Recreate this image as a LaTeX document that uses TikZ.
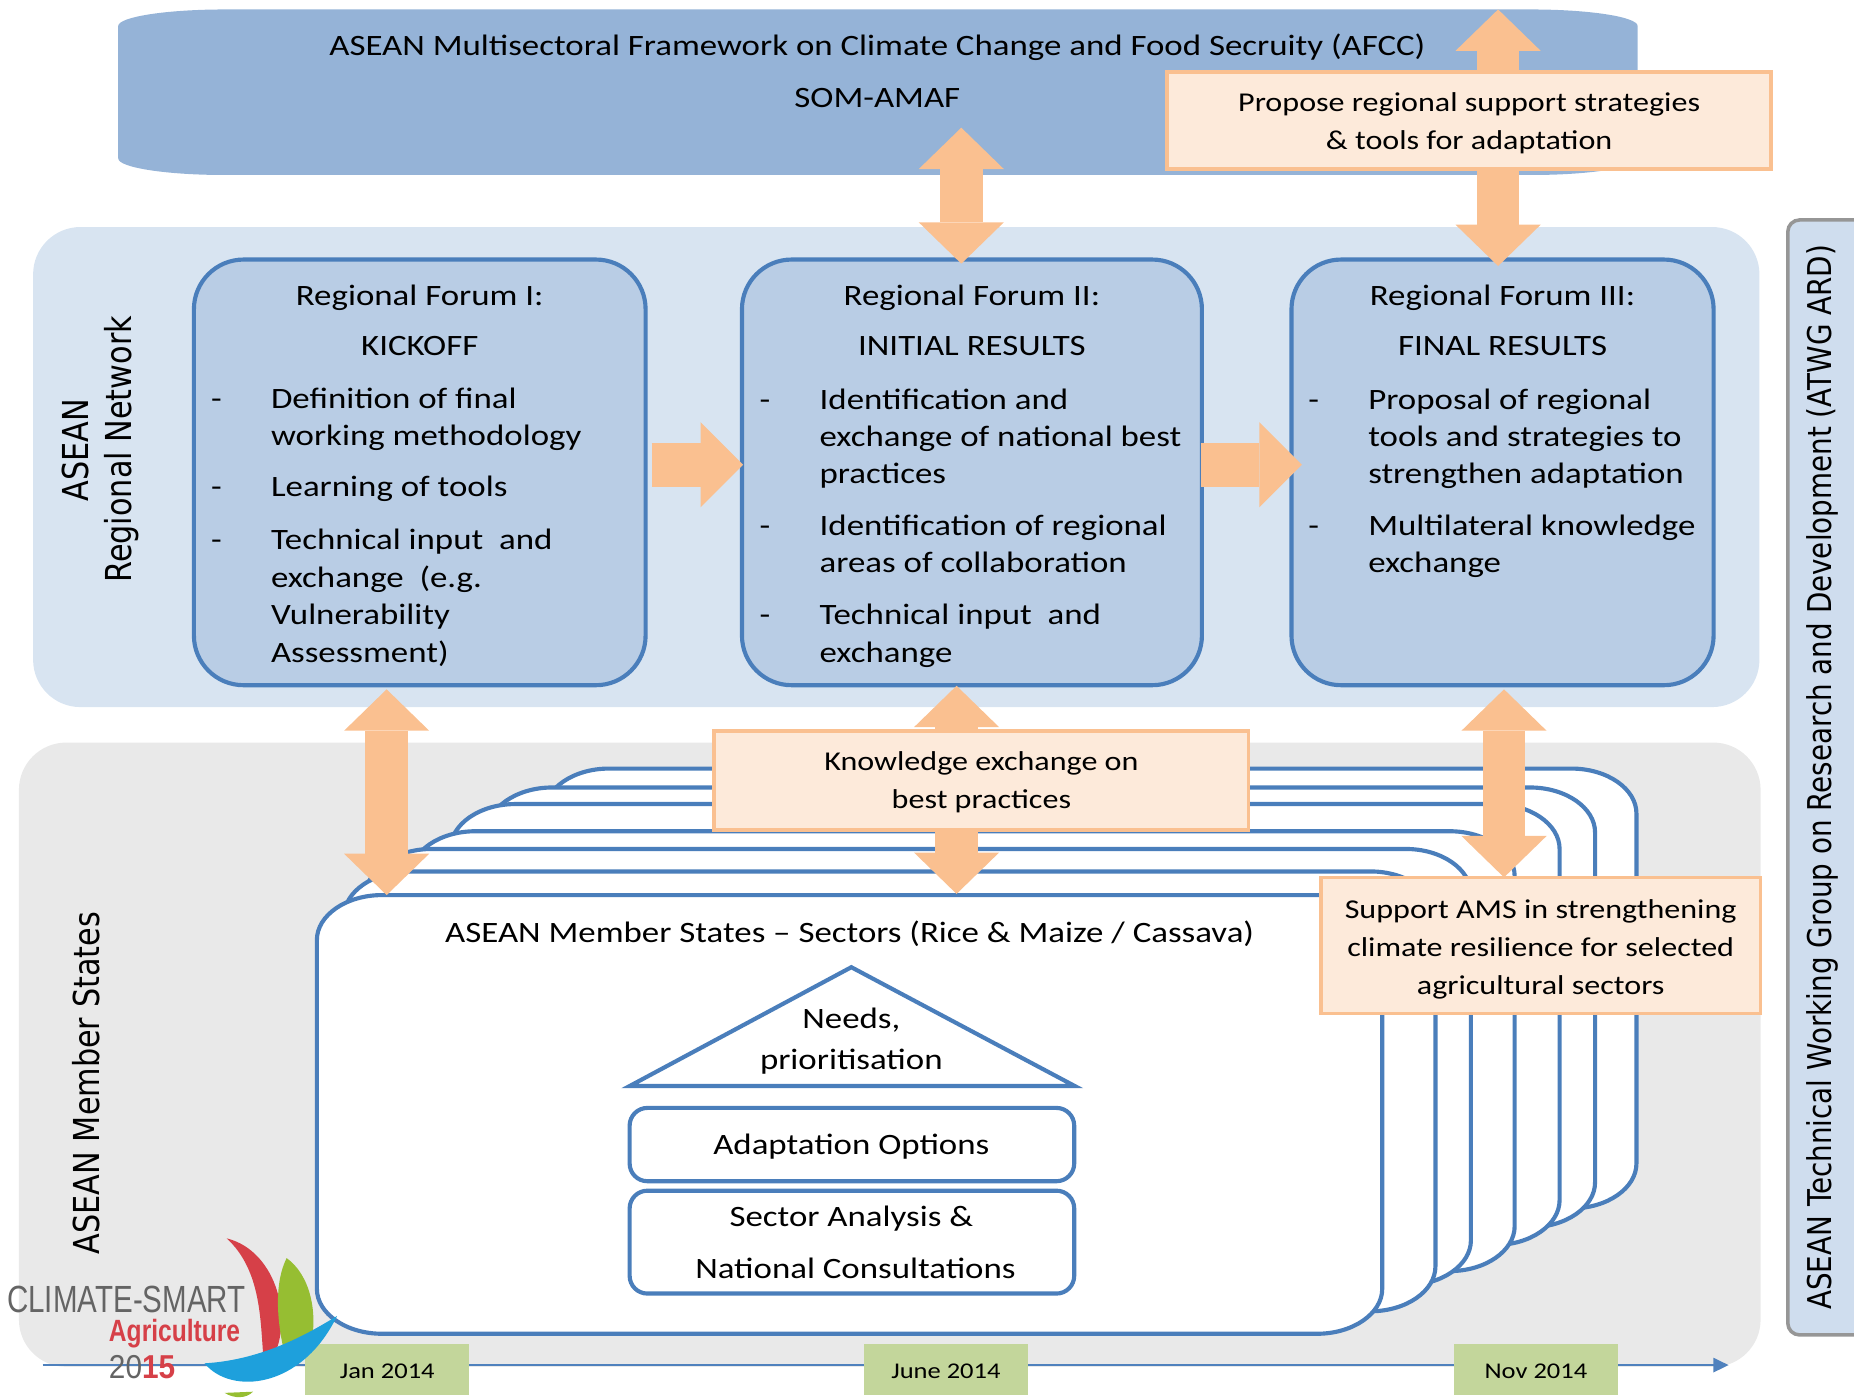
\documentclass[tikz,border=0pt]{standalone}
\usepackage{fontspec}
\setmainfont{Carlito}[FakeStretch=1.18]
\newfontfamily\dvfont{DejaVu Sans}
\newfontfamily\lsfont{Liberation Sans}
\usetikzlibrary{arrows.meta}
\definecolor{bannerblue}{RGB}{149,179,215}
\definecolor{forumfill}{RGB}{185,205,229}
\definecolor{bordblue}{RGB}{74,126,187}
\definecolor{regbg}{RGB}{216,228,241}
\definecolor{membg}{RGB}{233,233,233}
\definecolor{atwgfill}{RGB}{207,221,238}
\definecolor{atwgborder}{RGB}{150,150,150}
\definecolor{arrorange}{RGB}{250,192,144}
\definecolor{peach}{RGB}{253,234,218}
\definecolor{dategreen}{RGB}{195,214,155}
\definecolor{lineblue}{RGB}{79,129,189}
\definecolor{logored}{RGB}{214,64,72}
\definecolor{logogray}{RGB}{100,100,100}
\definecolor{logogreen}{RGB}{150,190,50}
\definecolor{logoblue}{RGB}{30,160,220}
\newcommand\fsbody{\fontsize{25}{31.5}\selectfont}
\newcommand\fsnote{\fontsize{23}{31}\selectfont}
\newcommand\fsdate{\fontsize{19}{23}\selectfont}
\newcommand\fsrot{\dvfont\fontsize{25.6}{30}\selectfont}
\newcommand\fsrotb{\dvfont\fontsize{23.5}{28}\selectfont}
\newcommand\rrpath[6]{(#1,#2+#6) .. controls (#1,#2+0.45*#6) and (#1+0.45*#5,#2) .. (#1+#5,#2) -- (#3-#5,#2) .. controls (#3-0.45*#5,#2) and (#3,#2+0.45*#6) .. (#3,#2+#6) -- (#3,#4-#6) .. controls (#3,#4-0.45*#6) and (#3-0.45*#5,#4) .. (#3-#5,#4) -- (#1+#5,#4) .. controls (#1+0.45*#5,#4) and (#1,#4-0.45*#6) .. (#1,#4-#6) -- cycle}
\begin{document}
\begin{tikzpicture}[x=1pt,y=-1pt,
  bgbox/.style={rounded corners=40pt, inner sep=0pt},
  forumbox/.style={draw=bordblue, line width=3.5pt, fill=forumfill, rounded corners=42pt, inner sep=0pt, minimum height=360pt},
  notebox/.style={draw=arrorange, line width=3pt, fill=peach, inner sep=0pt},
  datebox/.style={fill=dategreen, inner sep=0pt, minimum width=139pt, minimum height=43pt, text height=15pt, text depth=1pt, font=\fsdate},
  innerbox/.style={draw=bordblue, line width=3.5pt, fill=white, rounded corners=15pt, inner sep=0pt, minimum width=376pt},
  txt/.style={inner sep=0pt, font=\fsbody},
  txtl/.style={txt, anchor=base west},
  txtc/.style={txt, anchor=base},
  notetxt/.style={inner sep=0pt, anchor=base, font=\fsnote},
  dblarr/.style={draw=arrorange, line width=36pt, {Triangle[length=35pt,width=72pt,line width=0pt]}-{Triangle[length=35pt,width=72pt,line width=0pt]}},
  sglarr/.style={draw=arrorange, line width=37pt, -{Triangle[length=36pt,width=72pt,line width=0pt]}},
  card/.style={draw=bordblue, line width=3.5pt, fill=white},
  rotlabel/.style={inner sep=0pt, font=\fsrot, rotate=90, yscale=1.18},
]
\useasboundingbox (0,0) rectangle (1568,1183);

% background panels
\node[bgbox, fill=regbg, minimum width=1460pt, minimum height=406pt] (regnet) at (758,395) {};
\node[bgbox, fill=membg, minimum width=1473pt, minimum height=528pt] (membs) at (752.5,892) {};
\node[draw=atwgborder, line width=3pt, fill=atwgfill, rounded corners=10pt, inner sep=0pt, minimum width=90pt, minimum height=943pt] (atwg) at (1557,657.5) {};

% banner
\fill[bannerblue] \rrpath{100}{8}{1385}{148}{90}{14};
\node[txtc] (afcc) at (742,47) {ASEAN Multisectoral Framework on Climate Change and Food Secruity (AFCC)};
\node[txtc] (somamaf) at (742,91) {SOM-AMAF};

% forums
\node[forumbox, minimum width=382pt] (f1) at (355,399.5) {};
\node[forumbox, minimum width=389pt] (f2) at (822,399.5) {};
\node[forumbox, minimum width=357pt] (f3) at (1270.75,399.5) {};

\node[txtc] (f1t) at (355,258) {Regional Forum I:};
\node[txtc] (f1h) at (355,301) {KICKOFF};
\node[txtc] (f1d1) at (183,345.5) {-};
\node[txtl] (f1l1) at (229,345.5) {Definition of final};
\node[txtl] (f1l2) at (229,377) {working methodology};
\node[txtc] (f1d2) at (183,420) {-};
\node[txtl] (f1l3) at (229,420) {Learning of tools};
\node[txtc] (f1d3) at (183,465) {-};
\node[txtl] (f1l4) at (229,465) {Technical input\ \ and};
\node[txtl] (f1l5) at (229,496.5) {exchange\ \ (e.g.};
\node[txtl] (f1l6) at (229,528.5) {Vulnerability};
\node[txtl] (f1l7) at (229,560) {Assessment)};

\node[txtc] (f2t) at (822,258) {Regional Forum II:};
\node[txtc] (f2h) at (822,301) {INITIAL RESULTS};
\node[txtc] (f2d1) at (647,346) {-};
\node[txtl] (f2l1) at (693,346) {Identification and};
\node[txtl] (f2l2) at (693,377.5) {exchange of national best};
\node[txtl] (f2l3) at (693,409) {practices};
\node[txtc] (f2d2) at (647,453) {-};
\node[txtl] (f2l4) at (693,453) {Identification of regional};
\node[txtl] (f2l5) at (693,484.5) {areas of collaboration};
\node[txtc] (f2d3) at (647,528.5) {-};
\node[txtl] (f2l6) at (693,528.5) {Technical input\ \ and};
\node[txtl] (f2l7) at (693,560) {exchange};

\node[txtc] (f3t) at (1270.75,258) {Regional Forum III:};
\node[txtc] (f3h) at (1270.75,301) {FINAL RESULTS};
\node[txtc] (f3d1) at (1111,346) {-};
\node[txtl] (f3l1) at (1157,346) {Proposal of regional};
\node[txtl] (f3l2) at (1157,377.5) {tools and strategies to};
\node[txtl] (f3l3) at (1157,409) {strengthen adaptation};
\node[txtc] (f3d2) at (1111,453) {-};
\node[txtl] (f3l4) at (1157,453) {Multilateral knowledge};
\node[txtl] (f3l5) at (1157,484.5) {exchange};

% top arrows
\coordinate (amidlo) at (813,223);
\coordinate (amidhi) at (813,108);
\coordinate (arightlo) at (1267,225);
\coordinate (arighthi) at (1267,8);
\draw[dblarr] (amidlo) -- (amidhi);
\draw[dblarr] (arightlo) -- (arighthi);

\node[notebox, minimum width=511pt, minimum height=82pt] (propose) at (1242.5,102) {};
\node[notetxt] (prop1) at (1242.5,94.4) {Propose regional support strategies};
\node[notetxt] (prop2) at (1242.5,126.5) {\& tools for adaptation};

% arrows between forums
\coordinate (h1a) at (551,393);
\coordinate (h1b) at (628.5,393);
\coordinate (h2a) at (1016,393);
\coordinate (h2b) at (1101,393);
\draw[sglarr] (h1a) -- (h1b);
\draw[sglarr] (h2a) -- (h2b);

% timeline
\coordinate (tls) at (36,1154.5);
\coordinate (tle) at (1462,1154.5);
\draw[lineblue, line width=2pt, -{Triangle[length=13pt,width=12pt]}] (tls) -- (tle);

% member state cards
\foreach \l/\t/\r/\b in {460/650/1384/1022, 412/666/1349/1038, 381/680/1319/1053, 347/703/1281/1075, 310/718/1244/1087, 291/737/1214/1109, 268/757/1169/1128}{
  \filldraw[card] \rrpath{\l}{\t}{\r}{\b}{55}{38};
}
\node[txtc] (amstitle) at (718.5,797) {ASEAN Member States -- Sectors (Rice \& Maize / Cassava)};
\filldraw[card, line join=miter] (720,818) -- (909,918.5) -- (532.5,918.5) -- cycle;
\node[txtc] (needs1) at (720,870) {Needs,};
\node[txtc] (needs2) at (720,904.5) {prioritisation};
\node[innerbox, minimum height=62pt] (adapt) at (720.5,968) {};
\node[txtc] (adapttxt) at (720,976) {Adaptation Options};
\node[innerbox, minimum height=87pt] (sector) at (720.5,1050.5) {};
\node[txtc] (sect1) at (720,1037.4) {Sector Analysis \&};
\node[txtc] (sect2) at (723.5,1081) {National Consultations};

% lower arrows
\coordinate (llhi) at (327,583);
\coordinate (lllo) at (327,757);
\coordinate (lmhi) at (809,580);
\coordinate (lmlo) at (809,756);
\coordinate (lrhi) at (1272,583);
\coordinate (lrlo) at (1272,742);
\draw[dblarr] (llhi) -- (lllo);
\draw[dblarr] (lmhi) -- (lmlo);
\draw[dblarr] (lrhi) -- (lrlo);

\node[notebox, minimum width=452pt, minimum height=84pt] (know) at (830,660) {};
\node[notetxt] (know1) at (830,652) {Knowledge exchange on};
\node[notetxt] (know2) at (830,684) {best practices};

\node[notebox, minimum width=372pt, minimum height=115pt] (support) at (1303,799.5) {};
\node[notetxt] (sup1) at (1303,777) {Support AMS in strengthening};
\node[notetxt] (sup2) at (1303,809) {climate resilience for selected};
\node[notetxt] (sup3) at (1303,841) {agricultural sectors};

% dates
\node[datebox] (jan) at (327.5,1158.5) {Jan 2014};
\node[datebox] (jun) at (800,1158.5) {June 2014};
\node[datebox] (nov) at (1299,1158.5) {Nov 2014};

% logo
\fill[logored] (191.7,1047.3) .. controls (235,1058) and (250,1120) .. (228,1153) -- (223,1150) .. controls (220,1120) and (222,1075) .. (191.7,1047.3) -- cycle;
\fill[logogreen] (242.4,1064) .. controls (262,1078) and (270,1110) .. (262,1142) -- (240,1142) .. controls (234,1115) and (232,1085) .. (242.4,1064) -- cycle;
\fill[logogreen] (190,1178) .. controls (198,1183) and (208,1183) .. (214,1177) -- cycle;
\fill[logoblue] (173,1153) .. controls (195,1180) and (255,1175) .. (285,1113) .. controls (265,1125) and (225,1150) .. (173,1153) -- cycle;
\node[anchor=base west, inner sep=0pt, font=\lsfont\fontsize{32}{34}\selectfont, text=logogray, xscale=0.78] (csa) at (6,1110) {CLIMATE-SMART};
\node[anchor=base west, inner sep=0pt, font=\lsfont\bfseries\fontsize{26}{28}\selectfont, text=logored, xscale=0.8] (agri) at (92,1134.7) {Agriculture};
\node[anchor=base west, inner sep=0pt, font=\lsfont\fontsize{28}{30}\selectfont, xscale=0.9] (yr) at (92,1166) {\textcolor{logogray}{20}\textcolor{logored}{\bfseries 15}};

% rotated labels
\node[rotlabel] (lasean) at (64,381) {ASEAN};
\node[rotlabel] (lreg) at (102.5,380) {Regional Network};
\node[rotlabel] (lams) at (72.5,916) {ASEAN Member States};
\node[rotlabel, font=\fsrotb] (latwg) at (1541,657.5) {ASEAN Technical Working Group on Research and Development (ATWG ARD)};
\end{tikzpicture}
\end{document}
